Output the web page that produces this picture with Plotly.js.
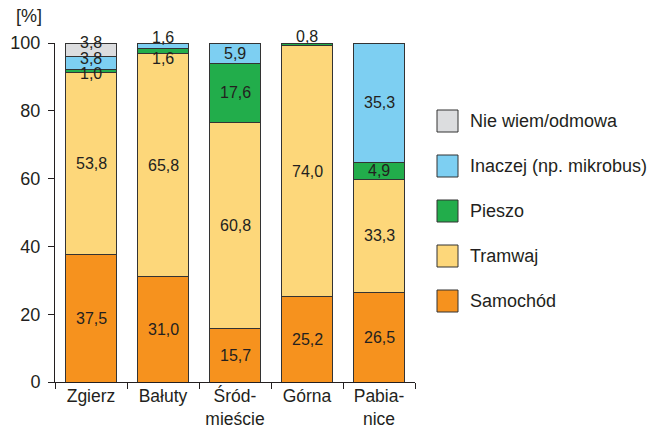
<!DOCTYPE html>
<html>
<head>
<meta charset="utf-8">
<script src="https://cdn.plot.ly/plotly-3.0.1.min.js"></script>
<style>
  html, body { margin: 0; padding: 0; background: #fff; }
  #chart { width: 655px; height: 428px; }
</style>
</head>
<body>
<div id="chart"></div>
<script>
// Districts (x categories) and their tick labels
const districts = ['Zgierz', 'Bałuty', 'Śródmieście', 'Górna', 'Pabianice'];
const districtLabels = ['Zgierz', 'Bałuty', 'Śród-<br>mieście', 'Górna', 'Pabia-<br>nice'];

// Mode of travel shares [%], stacked bottom to top
const seriesNames = ['Samochód', 'Tramwaj', 'Pieszo', 'Inaczej (np. mikrobus)', 'Nie wiem/odmowa'];
const samochod = [37.5, 31.0, 15.7, 25.2, 26.5];
const tramwaj  = [53.8, 65.8, 60.8, 74.0, 33.3];
const pieszo   = [1.0, 1.6, 17.6, 0.8, 4.9];
const inaczej  = [3.8, 1.6, 5.9, 0, 35.3];
const niewiem  = [3.8, 0, 0, 0, 0];
const seriesValues = [samochod, tramwaj, pieszo, inaczej, niewiem];

const yTicks = [0, 20, 40, 60, 80, 100];

// Styling
const colors = ['#f6921e', '#fdd77a', '#22ad4b', '#7dcff2', '#dcdddf'];
const outline = '#333333';
const FONT = 'Liberation Sans, Arial, Helvetica, sans-serif';
const textColor = '#231f20';

// Small segments get their labels nudged (pixels) so they stay readable
const labelNudge = {
  'Nie wiem/odmowa|Zgierz': 7,
  'Inaczej (np. mikrobus)|Zgierz': 4,
  'Pieszo|Zgierz': -3,
  'Inaczej (np. mikrobus)|Bałuty': 8,
  'Pieszo|Bałuty': -7,
  'Pieszo|Górna': 8
};

const fmt = v => v.toFixed(1).replace('.', ',');

const traces = seriesNames.map((name, i) => ({
  type: 'bar',
  name: name,
  x: districts,
  y: seriesValues[i],
  marker: { color: colors[i], line: { color: outline, width: 1 } },
  hoverinfo: 'name+y',
  showlegend: false
}));

// Value labels at the middle of each segment
const annotations = [];
districts.forEach((d, j) => {
  let base = 0;
  seriesValues.forEach((vals, i) => {
    const v = vals[j];
    if (v > 0) {
      annotations.push({
        x: d, y: base + v / 2, xref: 'x', yref: 'y',
        text: fmt(v), showarrow: false,
        yshift: labelNudge[seriesNames[i] + '|' + d] || 0,
        font: { family: FONT, size: 16, color: textColor }
      });
    }
    base += v;
  });
});

// Legend drawn as boxes + text, top item = top of the stack
const shapes = [];
const legendTop = (382 - 121) / 339;   // paper y of first item centre
const legendStep = 45 / 339;
for (let k = 0; k < seriesNames.length; k++) {
  const i = seriesNames.length - 1 - k;
  const yc = legendTop - k * legendStep;
  shapes.push({
    type: 'rect', xref: 'paper', yref: 'paper',
    xsizemode: 'pixel', ysizemode: 'pixel',
    xanchor: (437 - 55) / 360, yanchor: yc,
    x0: 0, x1: 21, y0: -11, y1: 11,
    fillcolor: colors[i], line: { color: outline, width: 1 }
  });
  annotations.push({
    xref: 'paper', yref: 'paper', x: (468 - 55) / 360, y: yc,
    xanchor: 'left', yanchor: 'middle', showarrow: false,
    text: seriesNames[i], font: { family: FONT, size: 18, color: textColor }
  });
}

// Unit label above the y axis
annotations.push({
  xref: 'paper', yref: 'paper', x: (29 - 55) / 360, y: (382 - 16) / 339,
  xanchor: 'center', yanchor: 'middle', showarrow: false,
  text: '[%]', font: { family: FONT, size: 18, color: textColor }
});

const layout = {
  width: 655, height: 428,
  margin: { l: 55, r: 240, t: 43, b: 46, pad: 0 },
  paper_bgcolor: '#ffffff', plot_bgcolor: '#ffffff',
  barmode: 'stack',
  bargap: 0.28,
  showlegend: false,
  font: { family: FONT, size: 18, color: textColor },
  xaxis: {
    type: 'category',
    tickvals: districts, ticktext: districtLabels,
    tickson: 'boundaries',
    ticks: 'outside', ticklen: 6, tickcolor: '#231f20', tickwidth: 1,
    showline: true, linecolor: '#231f20', linewidth: 1,
    showgrid: false, zeroline: false,
    range: [-0.5, 4.5],
    ticklabelstandoff: -2,
    tickfont: { family: FONT, size: 17.5, color: textColor }
  },
  yaxis: {
    range: [0, 100],
    tickvals: yTicks,
    ticks: 'outside', ticklen: 6, tickcolor: '#231f20', tickwidth: 1,
    showline: true, linecolor: '#231f20', linewidth: 1,
    showgrid: false, zeroline: false,
    ticklabelstandoff: 4,
    tickfont: { family: FONT, size: 18, color: textColor }
  },
  shapes: shapes,
  annotations: annotations
};

Plotly.newPlot('chart', traces, layout, { displayModeBar: false, staticPlot: true });
</script>
</body>
</html>
